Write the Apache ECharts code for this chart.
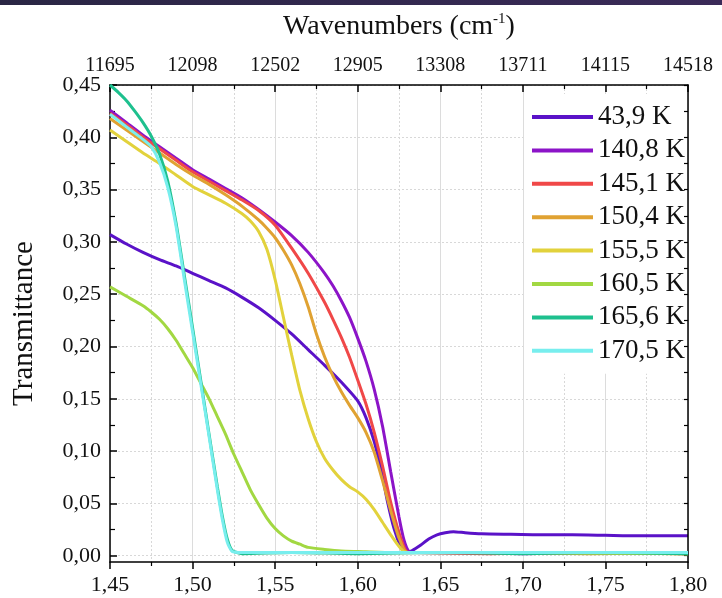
<!DOCTYPE html>
<html><head><meta charset="utf-8">
<script src="https://cdn.jsdelivr.net/npm/echarts@6/dist/echarts.min.js"></script>
<style>html,body{margin:0;padding:0;background:#fff}#c{width:722px;height:598px}</style>
</head><body><div id="c"></div>
<script>
// ---- data ----
const seriesNames = ['43,9 K','140,8 K','145,1 K','150,4 K','155,5 K','160,5 K','165,6 K','170,5 K'];
const seriesColors = ['#5a12c8','#8c14c8','#f04848','#e0a232','#e2d23c','#a2d842','#1ec08e','#78eeee'];
const bottomTicks = [1.45,1.50,1.55,1.60,1.65,1.70,1.75,1.80];
const topTickLabels = ['11695','12098','12502','12905','13308','13711','14115','14518'];
const yMajorTicks = [0,0.05,0.10,0.15,0.20,0.25,0.30,0.35,0.40,0.45];
const yMinorTicks = [0.025,0.075,0.125,0.175,0.225,0.275,0.325,0.375,0.425];

const s439 = [[1.45,0.307],[1.46,0.298],[1.47,0.290],[1.48,0.283],[1.49,0.277],[1.50,0.270],[1.51,0.263],[1.52,0.256],[1.53,0.247],[1.54,0.237],[1.55,0.225],[1.56,0.212],[1.57,0.197],[1.58,0.182],[1.59,0.166],[1.60,0.148],[1.605,0.132],[1.61,0.109],[1.615,0.076],[1.618,0.052],[1.622,0.026],[1.626,0.009],[1.629,0.003],[1.633,0.005],[1.638,0.010],[1.643,0.016],[1.648,0.020],[1.653,0.022],[1.658,0.023],[1.665,0.022],[1.675,0.021],[1.69,0.0205],[1.71,0.020],[1.73,0.020],[1.75,0.0195],[1.77,0.019],[1.79,0.019],[1.80,0.019]];
const s1408 = [[1.45,0.426],[1.46,0.414],[1.47,0.402],[1.48,0.391],[1.49,0.380],[1.50,0.369],[1.51,0.360],[1.52,0.351],[1.53,0.342],[1.54,0.331],[1.55,0.319],[1.56,0.306],[1.57,0.290],[1.58,0.270],[1.585,0.258],[1.59,0.244],[1.595,0.228],[1.60,0.208],[1.605,0.186],[1.61,0.159],[1.615,0.124],[1.62,0.080],[1.625,0.037],[1.628,0.015],[1.631,0.004],[1.635,0.003],[1.66,0.003],[1.70,0.002],[1.75,0.003],[1.80,0.002]];
const s1451 = [[1.45,0.423],[1.46,0.412],[1.47,0.400],[1.48,0.389],[1.49,0.378],[1.50,0.367],[1.51,0.358],[1.52,0.349],[1.53,0.340],[1.54,0.330],[1.55,0.316],[1.56,0.294],[1.57,0.270],[1.58,0.242],[1.585,0.226],[1.59,0.209],[1.595,0.190],[1.60,0.168],[1.605,0.145],[1.61,0.118],[1.615,0.086],[1.62,0.051],[1.625,0.022],[1.6295,0.004],[1.635,0.003],[1.68,0.002],[1.72,0.003],[1.80,0.002]];
const s1504 = [[1.45,0.418],[1.46,0.407],[1.47,0.396],[1.48,0.385],[1.49,0.374],[1.50,0.364],[1.51,0.355],[1.52,0.345],[1.53,0.334],[1.54,0.321],[1.545,0.313],[1.55,0.304],[1.555,0.292],[1.56,0.278],[1.565,0.260],[1.57,0.238],[1.575,0.212],[1.58,0.190],[1.585,0.172],[1.59,0.157],[1.595,0.144],[1.60,0.132],[1.605,0.118],[1.61,0.099],[1.615,0.072],[1.62,0.043],[1.625,0.017],[1.63,0.003],[1.67,0.003],[1.74,0.002],[1.80,0.003]];
const s1555 = [[1.45,0.407],[1.46,0.396],[1.47,0.385],[1.48,0.375],[1.49,0.364],[1.50,0.353],[1.51,0.345],[1.52,0.337],[1.53,0.327],[1.535,0.320],[1.54,0.310],[1.545,0.293],[1.55,0.264],[1.555,0.228],[1.56,0.192],[1.565,0.158],[1.57,0.131],[1.575,0.109],[1.58,0.093],[1.585,0.082],[1.59,0.073],[1.595,0.066],[1.60,0.061],[1.605,0.054],[1.61,0.044],[1.615,0.032],[1.62,0.020],[1.625,0.009],[1.628,0.004],[1.635,0.003],[1.70,0.003],[1.80,0.002]];
const s1605 = [[1.45,0.257],[1.46,0.248],[1.47,0.239],[1.475,0.233],[1.48,0.226],[1.485,0.217],[1.49,0.206],[1.495,0.193],[1.50,0.180],[1.505,0.165],[1.51,0.150],[1.515,0.133],[1.52,0.116],[1.525,0.097],[1.53,0.080],[1.535,0.063],[1.54,0.049],[1.545,0.036],[1.55,0.026],[1.555,0.019],[1.56,0.014],[1.565,0.011],[1.57,0.008],[1.58,0.006],[1.59,0.0045],[1.60,0.004],[1.62,0.003],[1.70,0.003],[1.80,0.002]];
const s1656 = [[1.45,0.450],[1.455,0.443],[1.46,0.435],[1.465,0.425],[1.47,0.414],[1.475,0.401],[1.48,0.384],[1.485,0.358],[1.49,0.318],[1.495,0.268],[1.50,0.218],[1.505,0.167],[1.51,0.116],[1.515,0.066],[1.518,0.038],[1.521,0.016],[1.524,0.005],[1.53,0.002],[1.56,0.003],[1.60,0.002],[1.65,0.003],[1.70,0.002],[1.75,0.003],[1.80,0.002]];
const s1705 = [[1.45,0.422],[1.455,0.416],[1.46,0.410],[1.465,0.404],[1.47,0.398],[1.475,0.391],[1.48,0.376],[1.485,0.352],[1.49,0.315],[1.495,0.264],[1.50,0.214],[1.505,0.164],[1.51,0.114],[1.515,0.063],[1.518,0.035],[1.521,0.013],[1.524,0.004],[1.53,0.003],[1.60,0.003],[1.70,0.003],[1.80,0.003]];
const allData = [s439,s1408,s1451,s1504,s1555,s1605,s1656,s1705];

// ---- chart ----
const FONT = '"Liberation Serif", "Times New Roman", serif';
const chart = echarts.init(document.getElementById('c'), null, {renderer:'canvas'});
const yMin = -0.006, yMax = 0.45;
const fmtY = v => v.toFixed(2).replace('.', ',');
const fmtX = v => v.toFixed(2).replace('.', ',');

const option = {
  backgroundColor: '#ffffff',
  animation: false,
  textStyle: {fontFamily: FONT},
  graphic: [{
    type: 'rect', left: 0, top: 0, shape: {width: 722, height: 5},
    style: {fill: new echarts.graphic.LinearGradient(0,0,1,0,[{offset:0,color:'#2a2644'},{offset:1,color:'#3a2a58'}])}
  }],
  grid: {left: 110, right: 34, top: 85, bottom: 36, containLabel: false},
  legend: {
    orient: 'vertical', left: 524, top: 94,
    padding: [8, 0, 8, 8], backgroundColor: '#ffffff',
    icon: 'rect', itemWidth: 61, itemHeight: 4, itemGap: 3.4,
    textStyle: {fontFamily: FONT, fontSize: 27, color: '#111', lineHeight: 30},
    data: seriesNames
  },
  xAxis: [{
    type: 'value', position: 'bottom', min: 1.45, max: 1.80, interval: 0.05,
    axisLine: {show: true, onZero: false, lineStyle: {color: '#000', width: 1.5}},
    axisTick: {show: true, inside: false, length: 7, lineStyle: {color: '#000', width: 1.5}},
    minorTick: {show: true, splitNumber: 2, length: 4, lineStyle: {color: '#000', width: 1.2}},
    axisLabel: {fontFamily: FONT, fontSize: 22, color: '#111', margin: 12, formatter: fmtX},
    splitLine: {show: true, lineStyle: {color: '#dcdcdc', width: 1}},
    minorSplitLine: {show: true, lineStyle: {color: '#d8d8d8', width: 1, type: [2, 2]}}
  }, {
    type: 'value', position: 'top', min: 1.45, max: 1.80, interval: 0.05,
    name: '{a|Wavenumbers (cm}{s|-1}{a|)}', nameLocation: 'middle', nameGap: 44,
    nameTextStyle: {rich: {a: {fontFamily: FONT, fontSize: 28, color: '#111'}, s: {fontFamily: FONT, fontSize: 15, color: '#111', verticalAlign: 'top', padding: [0,0,14,0]}}},
    axisLine: {show: true, onZero: false, lineStyle: {color: '#000', width: 1.5}},
    axisTick: {show: true, inside: true, length: 7, lineStyle: {color: '#000', width: 1.5}},
    minorTick: {show: true, splitNumber: 2, length: 4, lineStyle: {color: '#000', width: 1.2}},
    axisLabel: {fontFamily: FONT, fontSize: 20, color: '#111', margin: 9,
      formatter: v => { const i = bottomTicks.findIndex(t => Math.abs(t - v) < 1e-6); return i >= 0 ? topTickLabels[i] : ''; }},
    splitLine: {show: false}
  }],
  yAxis: [{
    type: 'value', position: 'left', min: yMin, max: yMax,
    name: 'Transmittance', nameLocation: 'middle', nameGap: 71,
    nameTextStyle: {fontFamily: FONT, fontSize: 29, color: '#111'},
    axisLine: {show: true, onZero: false, lineStyle: {color: '#000', width: 1.5}},
    axisTick: {show: true, inside: true, length: 7, customValues: yMajorTicks, lineStyle: {color: '#000', width: 1.5}},
    axisLabel: {fontFamily: FONT, fontSize: 22, color: '#111', margin: 9, customValues: yMajorTicks, formatter: fmtY},
    splitLine: {show: true, lineStyle: {color: '#d8d8d8', width: 1, type: [2, 2]}}
  }, {
    type: 'value', position: 'left', min: yMin, max: yMax,
    axisLine: {show: false},
    axisTick: {show: true, inside: true, length: 5, customValues: yMinorTicks, lineStyle: {color: '#000', width: 1.2}},
    axisLabel: {show: false, customValues: yMinorTicks},
    splitLine: {show: false}
  }, {
    type: 'value', position: 'right', min: yMin, max: yMax, z: 6,
    axisLine: {show: true, onZero: false, lineStyle: {color: '#000', width: 1.5}},
    axisTick: {show: true, inside: true, length: 4, customValues: yMajorTicks.concat(yMinorTicks), lineStyle: {color: '#000', width: 1.2}},
    axisLabel: {show: false, customValues: yMajorTicks},
    splitLine: {show: false}
  }],
  series: seriesNames.map((n, i) => ({
    name: n, type: 'line', data: allData[i], xAxisIndex: 0, yAxisIndex: 0,
    showSymbol: false, symbol: 'none', smooth: 0.2,
    lineStyle: {color: seriesColors[i], width: 3},
    itemStyle: {color: seriesColors[i]},
    clip: true, z: 2 + i
  }))
};
chart.setOption(option);
</script>
</body></html>
